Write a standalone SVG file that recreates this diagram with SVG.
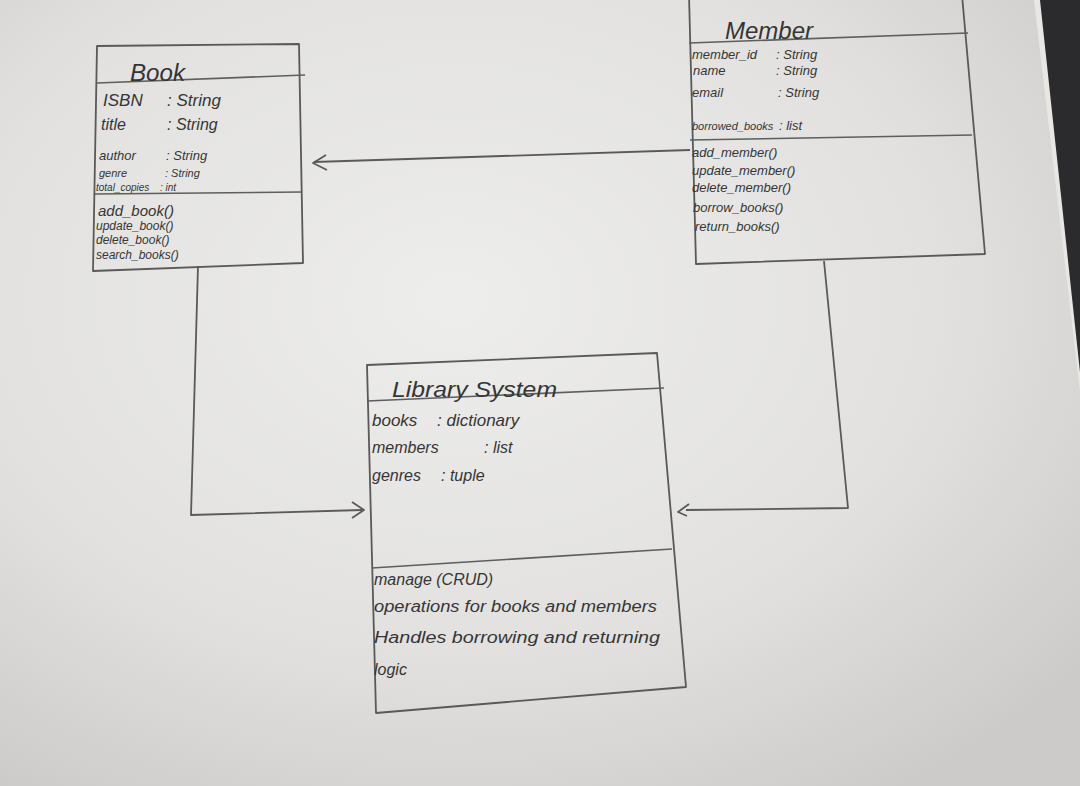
<svg xmlns="http://www.w3.org/2000/svg" width="1080" height="786" viewBox="0 0 1080 786">
  <defs>
    <radialGradient id="paper" cx="0.42" cy="0.38" r="0.75">
      <stop offset="0" stop-color="#ededec"/>
      <stop offset="0.6" stop-color="#e2e1df"/>
      <stop offset="1" stop-color="#cdcbc9"/>
    </radialGradient>
    <style>
      .box{fill:none;stroke:#595959;stroke-width:1.8;stroke-linejoin:round}
      .div{fill:none;stroke:#5e5e5e;stroke-width:1.6}
      .conn{fill:none;stroke:#5a5a5a;stroke-width:1.8;stroke-linejoin:round}
      .t{font-family:"Liberation Sans","DejaVu Sans",sans-serif;font-style:italic;fill:#353535}
      .ttl{font-size:24px}
    </style>
  </defs>
  <rect x="0" y="0" width="1080" height="786" fill="url(#paper)"/>
  <polygon points="1034,0 1080,0 1080,392" fill="#e8e7e3"/>
  <polygon points="1040,0 1080,0 1080,372" fill="#2b2b2e"/>

  <g id="connectors">
    <line class="conn" x1="690" y1="150" x2="314" y2="162"/>
    <polyline class="conn" points="326,155 313,163 327,170"/>
    <polyline class="conn" points="198,266 191,515 362,510"/>
    <polyline class="conn" points="352,502 364,510 352,518"/>
    <polyline class="conn" points="824,261 848,508 686,510"/>
    <polyline class="conn" points="689,504 678,512 687,516"/>
  </g>

  <g id="book">
    <polygon class="box" points="97,46 299,44 303,263 93,271"/>
    <line class="div" x1="97" y1="83" x2="305" y2="75"/>
    <line class="div" x1="95" y1="194" x2="302" y2="192"/>
    <text class="t ttl" x="130" y="81" textLength="55" lengthAdjust="spacingAndGlyphs" font-size="26">Book</text>
    <text class="t" font-size="17"><tspan x="103" y="106">ISBN</tspan><tspan x="167" y="106">: String</tspan></text>
    <text class="t" font-size="16"><tspan x="101" y="130">title</tspan><tspan x="167" y="130">: String</tspan></text>
    <text class="t" font-size="13"><tspan x="99" y="160">author</tspan><tspan x="166" y="160">: String</tspan></text>
    <text class="t" font-size="11"><tspan x="99" y="177">genre</tspan><tspan x="165" y="177">: String</tspan></text>
    <text class="t" font-size="10"><tspan x="96" y="191">total_copies</tspan><tspan x="160" y="191">: int</tspan></text>
    <text class="t" x="98" y="216" font-size="15">add_book()</text>
    <text class="t" x="96" y="230" font-size="12">update_book()</text>
    <text class="t" x="96" y="244" font-size="12">delete_book()</text>
    <text class="t" x="96" y="259" font-size="12">search_books()</text>
  </g>

  <g id="member">
    <polygon class="box" points="689,-5 962,-5 985,254 696,264"/>
    <line class="div" x1="689" y1="43" x2="968" y2="33"/>
    <line class="div" x1="690" y1="140" x2="972" y2="135"/>
    <text class="t ttl" x="725" y="39" textLength="88" lengthAdjust="spacingAndGlyphs">Member</text>
    <text class="t" font-size="13"><tspan x="692" y="59">member_id</tspan><tspan x="776" y="59">: String</tspan></text>
    <text class="t" font-size="13"><tspan x="693" y="75">name</tspan><tspan x="776" y="75">: String</tspan></text>
    <text class="t" font-size="13"><tspan x="692" y="97">email</tspan><tspan x="778" y="97">: String</tspan></text>
    <text class="t" font-size="11"><tspan x="692" y="130">borrowed_books</tspan><tspan x="779" y="130" font-size="13">: list</tspan></text>
    <text class="t" x="692" y="157" font-size="13">add_member()</text>
    <text class="t" x="692" y="175" font-size="13">update_member()</text>
    <text class="t" x="692" y="192" font-size="13">delete_member()</text>
    <text class="t" x="693" y="212" font-size="13">borrow_books()</text>
    <text class="t" x="695" y="231" font-size="13">return_books()</text>
  </g>

  <g id="library-system">
    <polygon class="box" points="367,365 657,353 686,687 376,713"/>
    <line class="div" x1="367" y1="401" x2="664" y2="388"/>
    <line class="div" x1="372" y1="568" x2="672" y2="549"/>
    <text class="t" x="392" y="397" font-size="22" textLength="165" lengthAdjust="spacingAndGlyphs">Library System</text>
    <text class="t" font-size="17"><tspan x="372" y="426">books</tspan><tspan x="437" y="426">: dictionary</tspan></text>
    <text class="t" font-size="16"><tspan x="372" y="453">members</tspan><tspan x="484" y="453">: list</tspan></text>
    <text class="t" font-size="16"><tspan x="372" y="481">genres</tspan><tspan x="441" y="481">: tuple</tspan></text>
    <text class="t" x="374" y="585" font-size="16">manage (CRUD)</text>
    <text class="t" x="374" y="612" font-size="16" textLength="283" lengthAdjust="spacingAndGlyphs">operations for books and members</text>
    <text class="t" x="374" y="643" font-size="16" textLength="286" lengthAdjust="spacingAndGlyphs">Handles borrowing and returning</text>
    <text class="t" x="374" y="675" font-size="16">logic</text>
  </g>
</svg>
